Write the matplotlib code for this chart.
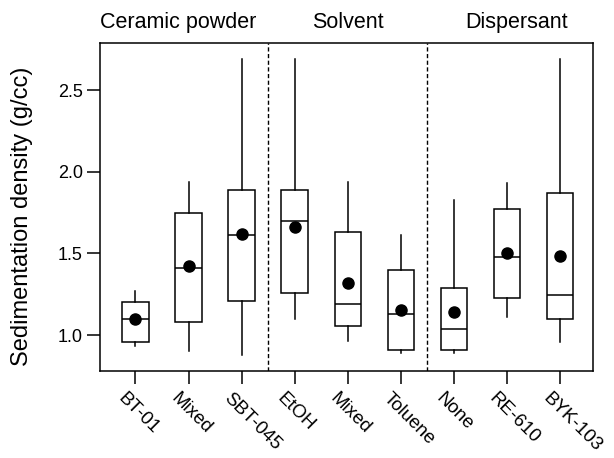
import numpy as np
import matplotlib.pyplot as plt
from matplotlib.transforms import ScaledTranslation

plt.rcParams['font.family'] = ['Liberation Sans', 'DejaVu Sans']

labels = ['BT-01', 'Mixed', 'SBT-045', 'EtOH', 'Mixed', 'Toluene', 'None', 'RE-610', 'BYK-103']
whislo = [0.93, 0.90, 0.88, 1.10, 0.965, 0.89, 0.89, 1.11, 0.96]
q1 = [0.96, 1.08, 1.21, 1.255, 1.055, 0.91, 0.91, 1.225, 1.10]
med = [1.096, 1.41, 1.61, 1.70, 1.19, 1.13, 1.04, 1.475, 1.245]
q3 = [1.20, 1.745, 1.89, 1.89, 1.63, 1.40, 1.29, 1.77, 1.87]
whishi = [1.27, 1.94, 2.69, 2.69, 1.94, 1.61, 1.83, 1.93, 2.69]
means = [1.10, 1.42, 1.62, 1.66, 1.32, 1.155, 1.14, 1.505, 1.485]

groups = ['Ceramic powder', 'Solvent', 'Dispersant']
group_x = [1.8, 5.0, 8.18]
separators = [3.5, 6.5]


def main():
    fig = plt.figure(figsize=(6.14, 4.58), dpi=100)
    ax = fig.add_axes([0.163, 0.19, 0.803, 0.716])

    stats = []
    for i in range(len(labels)):
        stats.append(dict(whislo=whislo[i], q1=q1[i], med=med[i], q3=q3[i],
                          whishi=whishi[i], mean=means[i], fliers=[]))
    pos = np.arange(1, len(labels) + 1)
    ax.bxp(stats, positions=pos, widths=0.5, showcaps=False, showmeans=True,
           patch_artist=True,
           boxprops=dict(facecolor='white', edgecolor='black', linewidth=1.1),
           medianprops=dict(color='black', linewidth=1.1),
           whiskerprops=dict(color='black', linewidth=1.1),
           meanprops=dict(marker='o', markerfacecolor='black',
                          markeredgecolor='black', markersize=8))

    for s in separators:
        ax.axvline(s, color='black', linestyle='--', linewidth=1.0, dashes=(3, 1.8))

    ax.set_xlim(0.334, 9.62)
    ax.set_ylim(0.78, 2.788)
    ax.tick_params(direction='out', length=9.5, width=1.1, pad=3)
    ax.tick_params(axis='x', pad=4)
    ax.set_yticks([1.0, 1.5, 2.0, 2.5])
    ax.set_yticklabels(['1.0', '1.5', '2.0', '2.5'], fontsize=13)
    ax.set_xticks(pos)
    ax.set_xticklabels(labels, fontsize=13.5, rotation=-45, ha='left',
                       va='top', rotation_mode='anchor')
    # shift rotated labels a bit left, like the original
    off = ScaledTranslation(-9 / 100, 0, fig.dpi_scale_trans)
    for t in ax.get_xticklabels():
        t.set_transform(t.get_transform() + off)
    for sp in ax.spines.values():
        sp.set_linewidth(1.1)

    ax.set_ylabel('Sedimentation density (g/cc)', fontsize=17)
    ax.yaxis.set_label_coords(-0.136, 0.471)

    for g, gx in zip(groups, group_x):
        ax.text(gx, 1.064, g, transform=ax.get_xaxis_transform(),
                ha='center', va='center', fontsize=15.5)

    fig.savefig('out.png', dpi=100)


if __name__ == "__main__":
    main()
